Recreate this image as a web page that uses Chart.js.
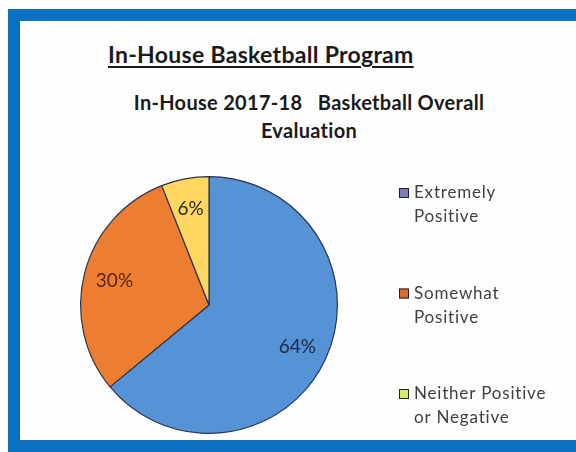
<!DOCTYPE html>
<html>
<head>
<meta charset="utf-8">
<script src="https://cdn.jsdelivr.net/npm/chart.js@4"></script>
<style>
  html, body { margin: 0; padding: 0; background: #fff; width: 576px; height: 452px; overflow: hidden; }
  #frame {
    position: absolute; left: 8px; top: 9px; width: 600px; height: 419px;
    border-left: 12px solid #0A70C2; border-top: 12px solid #0A70C2; border-bottom: 12px solid #0A70C2;
    background: #fefefe;
  }
  #heading {
    position: absolute; left: 108px; top: 40px;
    font: bold 23px Lato, sans-serif; color: #1a1a1a; letter-spacing: 0.3px;
    text-decoration: underline; text-underline-offset: 3px;
  }
  .ctitle {
    position: absolute; left: 0; width: 618px; text-align: center;
    font: bold 20px Lato, sans-serif; color: #1a1a1a; white-space: pre; letter-spacing: 0.3px;
  }
  canvas { position: absolute; left: 0; top: 0; }
</style>
</head>
<body>
<div id="frame"></div>
<div id="heading">In-House Basketball Program</div>
<div class="ctitle" style="top:90px">In-House 2017-18   Basketball Overall</div>
<div class="ctitle" style="top:118px">Evaluation</div>
<canvas id="myChart" width="576" height="452"></canvas>
<script>
// data
const categories = [['Extremely', 'Positive'], ['Somewhat', 'Positive'], ['Neither Positive', 'or Negative']];
const percents = [64, 30, 6];
const sliceColors = ['#5592D6', '#ED7D31', '#FFD65F'];
const legendColors = ['#7C7CBA', '#DE6A2C', '#D9EA62'];
const labelColors = ['#1c2a48', '#5a2810', '#2a2a2a'];

// percent labels inside the slices
const pctLabels = {
    id: 'pctLabels',
    afterDatasetsDraw(chart) {
        const ctx = chart.ctx;
        const meta = chart.getDatasetMeta(0);
        ctx.save();
        ctx.font = '19px Lato, sans-serif';
        ctx.textAlign = 'center';
        ctx.textBaseline = 'middle';
        meta.data.forEach((arc, i) => {
            const mid = (arc.startAngle + arc.endAngle) / 2;
            const r = arc.outerRadius * 0.76;
            ctx.fillStyle = labelColors[i];
            ctx.fillText(percents[i] + '%', arc.x + Math.cos(mid) * r, arc.y + Math.sin(mid) * r);
        });
        ctx.restore();
    }
};

// legend on the right, two lines per item
const sideLegend = {
    id: 'sideLegend',
    afterDraw(chart) {
        const ctx = chart.ctx;
        const x = 399, y0 = 193, step = 100.5, lh = 24;
        ctx.save();
        ctx.font = '17px Lato, sans-serif';
        ctx.letterSpacing = '0.8px';
        ctx.textBaseline = 'middle';
        chart.data.labels.forEach((lines, i) => {
            const y = y0 + i * step;
            ctx.fillStyle = legendColors[i];
            ctx.fillRect(x, y - 5, 10, 10);
            ctx.strokeStyle = '#222';
            ctx.lineWidth = 1;
            ctx.strokeRect(x + 0.5, y - 4.5, 9, 9);
            ctx.fillStyle = '#404040';
            lines.forEach((t, j) => ctx.fillText(t, x + 15, y + j * lh));
        });
        ctx.restore();
    }
};

const ctx = document.getElementById('myChart').getContext('2d');
const myChart = new Chart(ctx, {
    type: 'pie',
    data: {
        labels: categories,
        datasets: [{
            data: percents,
            backgroundColor: sliceColors,
            borderColor: '#2b3550',
            borderWidth: 1.2
        }]
    },
    options: {
        responsive: false,
        animation: false,
        devicePixelRatio: 1,
        layout: { padding: { left: 80, right: 238, top: 176, bottom: 18 } },
        plugins: {
            legend: { display: false },
            tooltip: { enabled: false }
        }
    },
    plugins: [pctLabels, sideLegend]
});
</script>
</body>
</html>
